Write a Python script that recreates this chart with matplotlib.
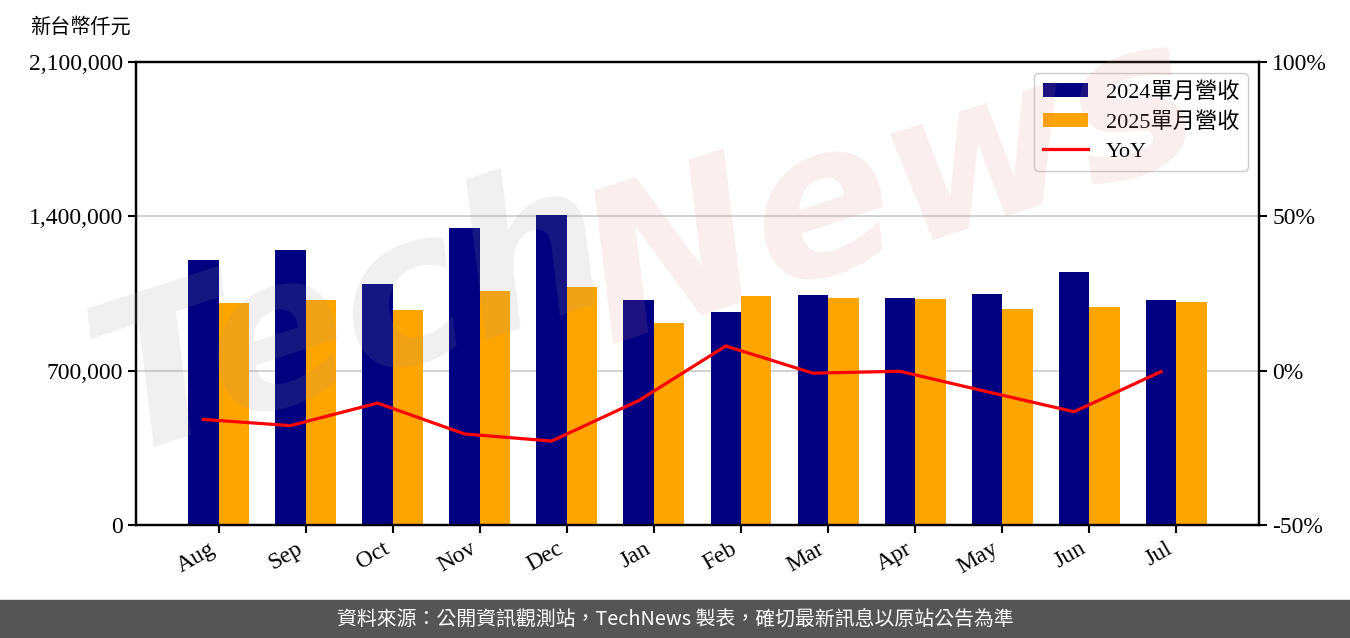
import matplotlib
matplotlib.use('Agg')
import numpy
import matplotlib.pyplot as plt
from matplotlib.ticker import FuncFormatter

plt.rcParams['font.family'] = ['Liberation Serif', 'Noto Sans CJK TC']

# -------------------------------------------------------
months   = ['Aug', 'Sep', 'Oct', 'Nov', 'Dec', 'Jan', 'Feb', 'Mar', 'Apr', 'May', 'Jun', 'Jul']
rev_2024 = [1_202_000, 1_247_000, 1_093_000, 1_347_000, 1_406_000, 1_020_000,
            966_000, 1_043_000, 1_030_000, 1_048_000, 1_148_000, 1_020_000]
rev_2025 = [1_007_000, 1_020_000, 975_000, 1_061_000, 1_079_000, 916_000,
            1_039_000, 1_030_000, 1_025_000, 980_000, 989_000, 1_011_000]
yoy_pct  = [-15.8, -17.8, -10.5, -20.5, -22.8, -9.7, 8.0, -0.8, -0.2, -6.8, -13.3, -0.3]

left_ticks  = [0, 700_000, 1_400_000, 2_100_000]
right_ticks = [-50, 0, 50, 100]

unit_label  = '新台幣仟元'
lab_2024    = '2024單月營收'
lab_2025    = '2025單月營收'
lab_yoy     = 'YoY'
footer_text = '資料來源：公開資訊觀測站，TechNews 製表，確切最新訊息以原站公告為準'
# -------------------------------------------------------
def _draw_watermark(fig):
    fig.text(0.26, 0.50, 'Tech', fontsize=150, family='DejaVu Sans', style='italic',
             weight='bold', color='#9a9a9a', alpha=0.15, rotation=18,
             ha='center', va='center', zorder=10)
    fig.text(0.66, 0.70, 'News', fontsize=150, family='DejaVu Sans', style='italic',
             weight='bold', color='#e08585', alpha=0.14, rotation=18,
             ha='center', va='center', zorder=10)
# -------------------------------------------------------
def main():
    fig = plt.figure(figsize=(13.5, 6.38), dpi=100)
    ax  = fig.add_axes([0.1007, 0.1771, 0.8319, 0.7257])
    ax2 = ax.twinx()

    xpos  = numpy.arange(len(months))
    width = 0.35

    ax.bar(xpos - width / 2, rev_2024, width=width, color='#000080', label=lab_2024, zorder=2)
    ax.bar(xpos + width / 2, rev_2025, width=width, color='#FFA500', label=lab_2025, zorder=2)

    ax.set_ylim(0, 2_100_000)
    ax.set_yticks(left_ticks)
    ax.yaxis.set_major_formatter(FuncFormatter(lambda val, _: f'{int(val):,}'))
    ax.grid(axis='y', color='#d3d3d3', linewidth=1.5, zorder=0)
    ax.set_axisbelow(True)

    ax.set_xlim(-0.95, len(months) - 1 + 0.95)
    ax.set_xticks(xpos)
    ax.set_xticklabels(months, rotation=30, ha='right', rotation_mode='default')

    ax2.plot(xpos - width / 2, yoy_pct, color='red', linewidth=2.3, label=lab_yoy)
    ax2.set_ylim(-50, 100)
    ax2.set_yticks(right_ticks)
    ax2.yaxis.set_major_formatter(FuncFormatter(lambda val, _: f'{int(val)}%'))

    for axis in [ax, ax2]:
        axis.tick_params(labelsize=17, width=1.5, length=6)
        for spine in axis.spines.values():
            spine.set_linewidth(1.6)

    fig.text(0.022, 0.957, unit_label, fontsize=14.5, family='Noto Sans CJK TC', va='center')

    h1, l1 = ax.get_legend_handles_labels()
    h2, l2 = ax2.get_legend_handles_labels()
    ax2.legend(h1 + h2, l1 + l2, loc='upper right', fontsize=16,
               handlelength=2.0, handleheight=0.6, borderpad=0.4, labelspacing=0.42,
               handletextpad=0.8, edgecolor='#cccccc', framealpha=1, fancybox=True)

    fig.patches.append(plt.Rectangle((0, 0), 1, 0.06, transform=fig.transFigure,
                                     color='#555555', zorder=0))
    fig.text(0.5, 0.03, footer_text, fontsize=14.3, color='white',
             family='Noto Sans CJK TC', ha='center', va='center')

    _draw_watermark(fig)

    fig.savefig('out.png', dpi=100)
    plt.close(fig)
# -------------------------------------------------------
if __name__ == '__main__':
    main()
